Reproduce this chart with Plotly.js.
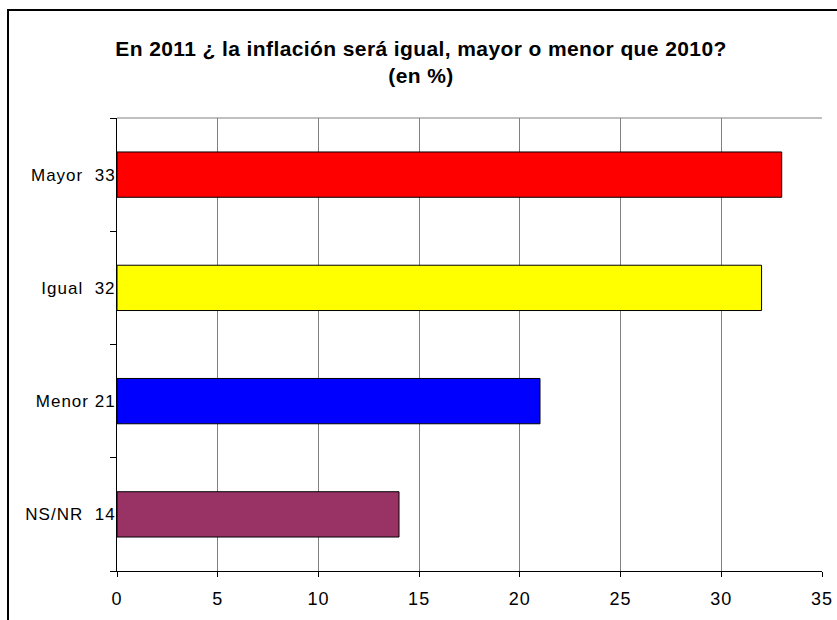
<!DOCTYPE html>
<html>
<head>
<meta charset="utf-8">
<script src="https://cdn.plot.ly/plotly-3.0.1.min.js"></script>
<style>
  html, body { margin:0; padding:0; background:#fff; }
  #chart { width:837px; height:620px; }
  .gtitle { letter-spacing: 0.4px; }
  .ytick text { letter-spacing: 1px; }
  .xtick text { letter-spacing: 1px; }
</style>
</head>
<body>
<div id="chart"></div>
<script>
const categories = ['Mayor', 'Igual', 'Menor', 'NS/NR'];
const values = [33, 32, 21, 14];
const tickLabels = ['Mayor  33', 'Igual  32', 'Menor 21', 'NS/NR  14'];
const barColors = ['#FF0000', '#FFFF00', '#0000FF', '#993366'];
const xTicks = [0, 5, 10, 15, 20, 25, 30, 35];

const fontFam = '"Liberation Sans", Arial, sans-serif';

const trace = {
  type: 'bar',
  orientation: 'h',
  x: values,
  y: categories,
  marker: { color: barColors, line: { color: '#000000', width: 1 } },
  hoverinfo: 'none'
};

// plot area: x 117..822, y 118..571
const L = 117, R = 837 - 822, T = 118, B = 620 - 571;
const pw = 837 - L - R, ph = 620 - T - B;
function px(xp) { return (xp - L) / pw; }
function py(yp) { return (620 - B - yp) / ph; }

const layout = {
  width: 837, height: 620,
  margin: { l: L, r: R, t: T, b: B, pad: 0 },
  paper_bgcolor: '#ffffff',
  plot_bgcolor: '#ffffff',
  showlegend: false,
  bargap: 0.6,
  font: { family: fontFam, size: 17, color: '#000' },
  title: {
    text: '<b>En 2011 ¿ la inflación será igual, mayor o menor que 2010?</b><br><b>(en %)</b>',
    font: { family: fontFam, size: 21, color: '#000' },
    xref: 'container', yref: 'container',
    x: 421 / 837, xanchor: 'center',
    y: 1 - 56 / 620, yanchor: 'middle'
  },
  xaxis: {
    range: [0, 35],
    tickvals: xTicks,
    ticktext: xTicks.map(String),
    showgrid: true, gridcolor: '#808080', gridwidth: 1,
    zeroline: false,
    showline: true, linecolor: '#000', linewidth: 1,
    ticks: 'outside', ticklen: 5, tickcolor: '#000',
    tickfont: { family: fontFam, size: 18 },
    ticklabelstandoff: 6,
    fixedrange: true
  },
  yaxis: {
    type: 'category',
    categoryorder: 'array',
    categoryarray: categories,
    tickvals: categories,
    ticktext: tickLabels,
    autorange: 'reversed',
    showgrid: false,
    zeroline: false,
    showline: true, linecolor: '#000', linewidth: 1,
    ticks: 'outside', ticklen: 6, tickcolor: '#000',
    tickson: 'boundaries',
    tickfont: { family: fontFam, size: 17 },
    ticklabelstandoff: -3,
    fixedrange: true
  },
  shapes: [
    { type: 'line', xref: 'paper', yref: 'paper', x0: 0, x1: 1, y0: 1, y1: 1,
      line: { color: '#808080', width: 1 }, layer: 'below' },
    { type: 'rect', xref: 'paper', yref: 'paper',
      x0: px(8), x1: px(845), y0: py(10), y1: py(630),
      line: { color: '#000', width: 2 }, fillcolor: 'rgba(0,0,0,0)', layer: 'above' }
  ]
};

Plotly.newPlot('chart', [trace], layout, { staticPlot: true, displayModeBar: false });
</script>
</body>
</html>
